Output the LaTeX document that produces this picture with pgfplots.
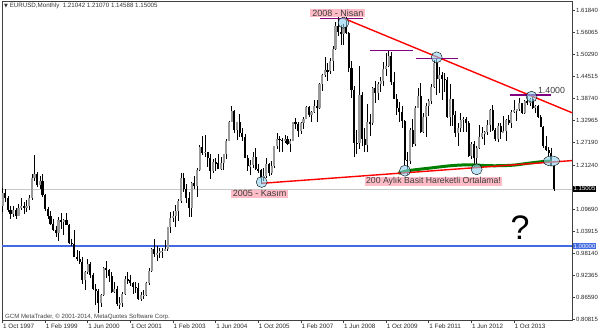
\documentclass[border=0pt]{standalone}
\usepackage{fontspec}
\setmainfont{Liberation Sans}
\newfontfamily\dejavu{DejaVu Sans}
\usepackage{pgfplots}
\pgfplotsset{compat=1.18}
\usepackage{pgfplotstable}
\definecolor{mtblue}{RGB}{65,105,225}
\definecolor{mtpink}{RGB}{255,188,198}
\definecolor{mtcirc}{RGB}{140,210,240}
\definecolor{mtgreen}{RGB}{0,128,0}
\definecolor{mtpurple}{RGB}{128,0,128}
\definecolor{mttext}{RGB}{60,60,60}

% Monthly EURUSD candles, Oct 1997 ... Jan 2015 (row index = month number)
\pgfplotstableread{
O H L C
1.1050 1.1520 1.0900 1.1400
1.1400 1.1500 1.1150 1.1250
1.1250 1.1320 1.0900 1.0950
1.0950 1.1050 1.0700 1.0850
1.0850 1.1050 1.0750 1.0950
1.0950 1.1000 1.0700 1.0800
1.0800 1.1100 1.0780 1.1000
1.1000 1.1250 1.0950 1.1050
1.1050 1.1150 1.0850 1.1000
1.1000 1.1200 1.0900 1.1050
1.1050 1.1350 1.0950 1.1250
1.1250 1.1900 1.1200 1.1800
1.1800 1.2380 1.1700 1.1900
1.1900 1.1950 1.1550 1.1600
1.1600 1.1850 1.1500 1.1700
1.1700 1.1900 1.1300 1.1350
1.1350 1.1380 1.0920 1.0980
1.0980 1.1030 1.0710 1.0780
1.0780 1.0930 1.0560 1.0570
1.0570 1.0720 1.0390 1.0430
1.0430 1.0530 1.0250 1.0330
1.0330 1.0770 1.0130 1.0690
1.0690 1.0880 1.0450 1.0620
1.0620 1.0700 1.0300 1.0680
1.0680 1.0880 1.0550 1.0560
1.0560 1.0580 1.0060 1.0080
1.0080 1.0190 0.9990 1.0060
1.0060 1.0420 0.9700 0.9720
0.9720 0.9900 0.9600 0.9650
0.9650 0.9860 0.9530 0.9570
0.9570 0.9700 0.9000 0.9100
0.9100 0.9340 0.8840 0.9330
0.9330 0.9660 0.9260 0.9520
0.9520 0.9590 0.9170 0.9230
0.9230 0.9290 0.8840 0.8880
0.8880 0.9000 0.8450 0.8830
0.8830 0.8880 0.8228 0.8500
0.8500 0.8730 0.8400 0.8700
0.8700 0.9440 0.8680 0.9420
0.9420 0.9594 0.9150 0.9380
0.9380 0.9400 0.9050 0.9220
0.9220 0.9330 0.8770 0.8790
0.8790 0.9050 0.8760 0.8880
0.8880 0.8960 0.8430 0.8470
0.8470 0.8650 0.8344 0.8500
0.8500 0.8800 0.8400 0.8750
0.8750 0.9200 0.8720 0.9120
0.9120 0.9320 0.8990 0.9110
0.9110 0.9230 0.8950 0.9020
0.9020 0.9060 0.8740 0.8920
0.8920 0.9050 0.8770 0.8900
0.8900 0.9040 0.8580 0.8600
0.8600 0.8780 0.8560 0.8700
0.8700 0.8840 0.8620 0.8720
0.8720 0.9060 0.8680 0.9020
0.9020 0.9410 0.8980 0.9340
0.9340 0.9960 0.9320 0.9920
0.9920 1.0190 0.9700 0.9790
0.9790 0.9990 0.9600 0.9810
0.9810 0.9960 0.9680 0.9870
0.9870 0.9950 0.9690 0.9880
0.9880 1.0150 0.9870 0.9930
0.9930 1.0500 0.9860 1.0490
1.0490 1.0890 1.0340 1.0730
1.0730 1.0930 1.0640 1.0790
1.0790 1.1080 1.0500 1.0910
1.0910 1.1230 1.0650 1.1180
1.1180 1.1930 1.1130 1.1800
1.1800 1.1930 1.1410 1.1500
1.1500 1.1640 1.1140 1.1250
1.1250 1.1420 1.0760 1.0990
1.0990 1.1680 1.0760 1.1650
1.1650 1.1850 1.1500 1.1590
1.1590 1.2050 1.1300 1.1990
1.1990 1.2650 1.1960 1.2590
1.2590 1.2900 1.2380 1.2450
1.2450 1.2930 1.2350 1.2470
1.2470 1.2480 1.2080 1.2300
1.2300 1.2410 1.1760 1.1980
1.1980 1.2280 1.1910 1.2200
1.2200 1.2310 1.1960 1.2180
1.2180 1.2420 1.2020 1.2030
1.2030 1.2330 1.2000 1.2180
1.2180 1.2430 1.2000 1.2420
1.2420 1.2810 1.2280 1.2770
1.2770 1.3290 1.2760 1.3260
1.3260 1.3667 1.3260 1.3560
1.3560 1.3580 1.2960 1.3040
1.3040 1.3270 1.2780 1.3250
1.3250 1.3480 1.2870 1.2970
1.2970 1.3090 1.2770 1.2870
1.2870 1.2940 1.2300 1.2310
1.2310 1.2380 1.1980 1.2100
1.2100 1.2260 1.1870 1.2130
1.2130 1.2480 1.2060 1.2340
1.2340 1.2580 1.2000 1.2030
1.2030 1.2150 1.1910 1.1990
1.1990 1.2030 1.1640 1.1790
1.1790 1.2040 1.1710 1.1840
1.1840 1.2310 1.1800 1.2160
1.2160 1.2170 1.1830 1.1920
1.1920 1.2240 1.1870 1.2110
1.2110 1.2630 1.2050 1.2620
1.2620 1.2980 1.2560 1.2810
1.2810 1.2900 1.2460 1.2790
1.2790 1.2830 1.2460 1.2760
1.2760 1.2910 1.2710 1.2810
1.2810 1.2880 1.2650 1.2680
1.2680 1.2810 1.2480 1.2760
1.2760 1.3270 1.2760 1.3250
1.3250 1.3370 1.3080 1.3200
1.3200 1.3270 1.2860 1.3010
1.3010 1.3260 1.2940 1.3230
1.3230 1.3390 1.3070 1.3350
1.3350 1.3680 1.3340 1.3650
1.3650 1.3690 1.3400 1.3450
1.3450 1.3550 1.3270 1.3530
1.3530 1.3850 1.3500 1.3690
1.3690 1.3840 1.3260 1.3640
1.3640 1.4280 1.3590 1.4260
1.4260 1.4530 1.4070 1.4500
1.4500 1.4970 1.4430 1.4630
1.4630 1.4800 1.4330 1.4590
1.4590 1.4950 1.4510 1.4860
1.4860 1.5250 1.4590 1.5190
1.5190 1.5900 1.5150 1.5790
1.5790 1.6020 1.5530 1.5620
1.5620 1.5820 1.5290 1.5560
1.5560 1.5840 1.5280 1.5760
1.5760 1.6038 1.5580 1.5600
1.5600 1.5630 1.4580 1.4670
1.4670 1.4870 1.3880 1.4090
1.4090 1.4200 1.2330 1.2720
1.2720 1.3060 1.2420 1.2700
1.2700 1.4720 1.2560 1.3970
1.3970 1.4060 1.2630 1.2800
1.2800 1.3100 1.2460 1.2660
1.2660 1.3740 1.2460 1.3250
1.3250 1.3470 1.2880 1.3240
1.3240 1.4170 1.3180 1.4140
1.4140 1.4340 1.3750 1.4030
1.4030 1.4300 1.3830 1.4250
1.4250 1.4450 1.4040 1.4330
1.4330 1.4840 1.4200 1.4640
1.4640 1.5060 1.4480 1.4720
1.4720 1.5140 1.4700 1.5000
1.5000 1.5100 1.4220 1.4320
1.4320 1.4580 1.3860 1.3870
1.3870 1.3990 1.3440 1.3630
1.3630 1.3780 1.3270 1.3510
1.3510 1.3690 1.3110 1.3290
1.3290 1.3320 1.2140 1.2270
1.2270 1.2470 1.1876 1.2230
1.2230 1.3110 1.2150 1.3050
1.3050 1.3330 1.2590 1.2680
1.2680 1.3670 1.2640 1.3620
1.3620 1.4160 1.3620 1.3930
1.3930 1.4280 1.2970 1.2990
1.2990 1.3500 1.2960 1.3380
1.3380 1.3760 1.2860 1.3690
1.3690 1.3860 1.3430 1.3800
1.3800 1.4250 1.3740 1.4170
1.4170 1.4880 1.4140 1.4810
1.4810 1.4940 1.3970 1.4400
1.4400 1.4700 1.4010 1.4500
1.4500 1.4580 1.3840 1.4390
1.4390 1.4550 1.4050 1.4370
1.4370 1.4450 1.3360 1.3390
1.3390 1.4250 1.3150 1.3860
1.3860 1.3870 1.3150 1.3440
1.3440 1.3550 1.2860 1.2960
1.2960 1.3230 1.2620 1.3090
1.3090 1.3490 1.3000 1.3310
1.3310 1.3390 1.3000 1.3340
1.3340 1.3380 1.3000 1.3240
1.3240 1.3290 1.2330 1.2360
1.2360 1.2740 1.2290 1.2670
1.2670 1.2750 1.2040 1.2300
1.2300 1.2640 1.2130 1.2580
1.2580 1.3170 1.2560 1.2860
1.2860 1.3140 1.2800 1.2960
1.2960 1.3020 1.2660 1.2990
1.2990 1.3310 1.2920 1.3190
1.3190 1.3590 1.3000 1.3580
1.3580 1.3710 1.3010 1.3060
1.3060 1.3110 1.2750 1.2820
1.2820 1.3240 1.2740 1.3160
1.3160 1.3240 1.2800 1.3000
1.3000 1.3420 1.2990 1.3010
1.3010 1.3340 1.2750 1.3300
1.3300 1.3450 1.3190 1.3220
1.3220 1.3570 1.3100 1.3520
1.3520 1.3830 1.3500 1.3580
1.3580 1.3610 1.3290 1.3590
1.3590 1.3890 1.3550 1.3750
1.3750 1.3770 1.3480 1.3490
1.3490 1.3830 1.3480 1.3800
1.3800 1.3960 1.3700 1.3770
1.3770 1.3900 1.3670 1.3870
1.3870 1.3990 1.3590 1.3630
1.3630 1.3700 1.3500 1.3690
1.3690 1.3700 1.3370 1.3390
1.3390 1.3440 1.3130 1.3130
1.3130 1.3150 1.2570 1.2630
1.2630 1.2890 1.2500 1.2530
1.2530 1.2600 1.2360 1.2450
1.2450 1.2570 1.2100 1.2100
1.21042 1.21070 1.14588 1.15005
}\candles

\begin{document}
\begin{tikzpicture}
\useasboundingbox (-2pt,-13pt) rectangle (598pt,320pt);
\begin{axis}[
  at={(0,0)}, anchor=south west,
  scale only axis, width=570pt, height=319pt,
  xmin=-0.2, xmax=213.8, ymin=0.80555, ymax=1.64389,
  clip mode=individual,
  axis line style={black!75, line width=0.7pt},
  tick style={black!75, line width=0.6pt},
  tick align=outside, major tick length=3pt,
  xtick pos=left, ytick pos=right,
  xticklabel pos=left, yticklabel pos=right,
  xtick={0,16,32,48,64,80,96,112,128,144,160,176,192},
  xticklabels={1 Oct 1997,1 Feb 1999,1 Jun 2000,1 Oct 2001,1 Feb 2003,1 Jun 2004,1 Oct 2005,1 Feb 2007,1 Jun 2008,1 Oct 2009,1 Feb 2011,1 Jun 2012,1 Oct 2013},
  xticklabel style={anchor=north west, font=\fontsize{6.3}{7}\selectfont, text=black!85, inner xsep=0.5pt, inner ysep=1pt},
  ytick={1.61840,1.56065,1.50290,1.44515,1.38740,1.32965,1.27190,1.21240,1.09690,1.03915,0.98140,0.92365,0.86590,0.80815},
  yticklabels={1.61840,1.56065,1.50290,1.44515,1.38740,1.32965,1.27190,1.21240,1.09690,1.03915,0.98140,0.92365,0.86590,0.80815},
  yticklabel style={anchor=west, font=\fontsize{6}{7}\selectfont, text=black!85, inner sep=1pt},
]
% reference lines
\addplot [forget plot, black!22, line width=0.7pt] coordinates {(-0.2,1.15005) (213.8,1.15005)};
\addplot [forget plot, mtblue, line width=2.4pt] coordinates {(-0.2,1.0) (213.8,1.0)};

% wicks
\addplot [forget plot, draw=none, mark=none,
  error bars/.cd, y dir=both, y explicit, error mark=none,
  error bar style={draw=black, line width=0.6pt}]
  table [x expr=\coordindex, y expr={(\thisrow{H}+\thisrow{L})/2}, y error expr={(\thisrow{H}-\thisrow{L})/2}] {\candles};
% bullish bodies (close >= open)
\addplot [forget plot, draw=none, mark=none,
  restrict expr to domain={\thisrow{C}-\thisrow{O}}{0:10},
  error bars/.cd, y dir=both, y explicit, error mark=none,
  error bar style={draw=black!40, line width=2.1pt}]
  table [x expr=\coordindex, y expr={(\thisrow{O}+\thisrow{C})/2}, y error expr={abs(\thisrow{C}-\thisrow{O})/2}] {\candles};
% bearish bodies (close < open)
\addplot [forget plot, draw=none, mark=none,
  restrict expr to domain={\thisrow{O}-\thisrow{C}}{0.00001:10},
  error bars/.cd, y dir=both, y explicit, error mark=none,
  error bar style={draw=black, line width=2.1pt}]
  table [x expr=\coordindex, y expr={(\thisrow{O}+\thisrow{C})/2}, y error expr={abs(\thisrow{C}-\thisrow{O})/2}] {\candles};

% 200-month SMA
\addplot [forget plot, mtgreen, line width=3pt, smooth] coordinates {
(148.6,1.1911) (152.2,1.1979) (159.7,1.2042) (167.2,1.2103) (172.4,1.2129) (177.4,1.2129)
(182.2,1.2111) (187.4,1.2111) (192.4,1.2129) (197.3,1.2174) (202.4,1.2216) (206.1,1.2234)};

% trend lines
\addplot [forget plot, red, line width=1.4pt] coordinates {(127.8,1.5992) (213.8,1.3503)};
\addplot [forget plot, red, line width=1.4pt] coordinates {(97.3,1.1648) (213.8,1.2245)};

% purple peak lines
\addplot [forget plot, mtpurple, line width=1.3pt] coordinates {(119.2,1.5984) (135.3,1.5984)};
\addplot [forget plot, mtpurple, line width=1.3pt] coordinates {(137.9,1.5133) (154.1,1.5133)};
\addplot [forget plot, mtpurple, line width=1.3pt] coordinates {(155.1,1.4933) (171.1,1.4933)};
\addplot [forget plot, mtpurple, line width=1.3pt] coordinates {(190.5,1.3969) (206.1,1.3969)};

% touch circles
\addplot [forget plot, only marks, mark=*, mark size=5.5pt, mark options={draw=none, fill=mtcirc, fill opacity=0.6}] coordinates {
(97.3,1.1682) (128.0,1.5870) (163.0,1.4959) (198.6,1.3924) (151.1,1.1979) (178.0,1.2016)};
\addplot [forget plot, only marks, mark=*, mark size=5pt, mark options={draw=none, fill=mtcirc, fill opacity=0.6, xscale=1.6}] coordinates {(206.1,1.2234)};

% annotations
\node[fill=mtpink, text=mttext, font=\fontsize{9}{9}\selectfont, inner xsep=2pt, inner ysep=0.8pt] at (axis cs:125.9,1.6115) {2008 - Nisan};
\node[fill=mtpink, text=mttext, font=\fontsize{9}{9}\selectfont, inner xsep=2pt, inner ysep=0.8pt] at (axis cs:96.5,1.1375) {2005 - Kasım};
\node[fill=mtpink, text=mttext, font=\fontsize{8.7}{9}\selectfont, inner xsep=1.5pt, inner ysep=0.8pt] at (axis cs:161.8,1.1695) {200 Aylık Basit Hareketli Ortalama!};
\node[text=mttext, font=\fontsize{8.8}{9}\selectfont, inner sep=0pt] at (axis cs:206.1,1.4082) {1.4000};
\node[text=black, font=\fontsize{34}{34}\selectfont, inner sep=0pt] at (axis cs:194.3,1.0473) {?};
\node[anchor=west, text=black!80, font=\fontsize{6.2}{7}\selectfont, inner sep=0pt] at (axis cs:0.55,1.6307) {{\dejavu\fontsize{5}{6}\selectfont ▼}\ EURUSD,Monthly\ \ 1.21042 1.21070 1.14588 1.15005};
\node[anchor=west, text=black!75, font=\fontsize{6.1}{7}\selectfont, inner sep=0pt] at (axis cs:0.93,0.8148) {GCM MetaTrader, © 2001-2014, MetaQuotes Software Corp.};

% price labels on the right scale
\node[anchor=west, fill=black, text=white, font=\fontsize{6}{7}\selectfont, inner xsep=1pt, inner ysep=1.2pt, xshift=0.5pt] at (axis cs:213.8,1.15005) {1.15005};
\node[anchor=west, fill=mtblue, text=white, font=\fontsize{6}{7}\selectfont, inner xsep=1pt, inner ysep=1.2pt, xshift=0.5pt] at (axis cs:213.8,1.0) {1.00000};
\end{axis}
\end{tikzpicture}
\end{document}
